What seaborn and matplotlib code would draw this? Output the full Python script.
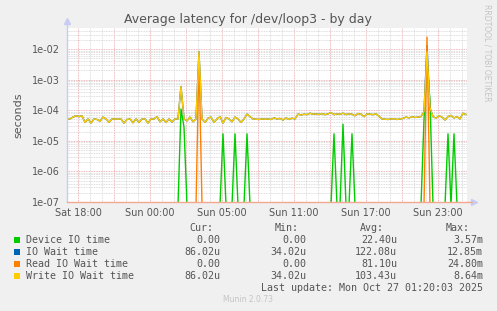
import numpy as np
import pandas as pd
import matplotlib
matplotlib.use("Agg")
import matplotlib.pyplot as plt
import seaborn as sns
from matplotlib.ticker import FixedLocator, FuncFormatter, NullFormatter, LogLocator
from matplotlib.patches import Rectangle

# ---------------- data ----------------
# time in hours relative to "Sat 18:00" (real elapsed time; DST change at night)
t_start_h = -11 / 12
step_h = 0.25

# Write IO wait time, microseconds, one value per 15 minutes
write_us = [52, 52, 60, 66, 62, 66, 40, 52, 38, 52,
            50, 44, 60, 52, 40, 52, 52, 51, 52, 38,
            50, 52, 39, 52, 40, 52, 52, 38, 52, 52,
            62, 42, 52, 40, 52, 41, 52, 52, 600, 52,
            45, 60, 42, 52, 8100, 52, 40, 55, 60, 40,
            52, 62, 38, 58, 52, 42, 60, 52, 40, 52,
            75, 62, 52, 51, 50, 52, 51, 52, 50, 56,
            52, 54, 48, 56, 50, 55, 52, 75, 70, 74,
            72, 80, 74, 76, 73, 78, 72, 76, 84, 72,
            76, 74, 80, 72, 77, 74, 66, 78, 74, 62,
            76, 74, 72, 76, 64, 52, 51, 50, 52, 53,
            50, 52, 54, 60, 56, 62, 58, 60, 62, 90,
            8100, 120, 62, 55, 66, 60, 48, 62, 68, 56,
            62, 52, 80, 72]

# IO wait time = write wait except where reads add to it
io_wait_idx = [44, 120]
io_wait_val = [8100, 12850]

# Read IO wait time: zero except spikes
read_idx = [44, 120]
read_val = [5000, 24800]

# Device IO time: zero except spikes
device_idx = [38, 39, 52, 56, 60, 89, 92, 95, 119, 120, 121, 127, 129]
device_val = [110, 28, 17, 17, 17, 17, 35, 17, 50, 3570, 200, 17, 17]

series_names = ["Device IO time", "IO Wait time", "Read IO Wait time", "Write IO Wait time"]
series_colors = ["#00CC00", "#0066B3", "#FF8000", "#FFCC00"]

cur_vals = ["0.00", "86.02u", "0.00", "86.02u"]
min_vals = ["0.00", "34.02u", "0.00", "34.02u"]
avg_vals = ["22.40u", "122.08u", "81.10u", "103.43u"]
max_vals = ["3.57m", "12.85m", "24.80m", "8.64m"]

x_tick_hours = [0, 6, 12, 18, 24, 30]
x_tick_labels = ["Sat 18:00", "Sun 00:00", "Sun 05:00", "Sun 11:00", "Sun 17:00", "Sun 23:00"]
y_tick_values = [1e-7, 1e-6, 1e-5, 1e-4, 1e-3, 1e-2]

# ---------------- build table ----------------
n = len(write_us)
hours = t_start_h + step_h * np.arange(n)
device = np.zeros(n); device[device_idx] = device_val
io_wait = np.array(write_us, dtype=float); io_wait[io_wait_idx] = io_wait_val
read = np.zeros(n); read[read_idx] = read_val
write = np.array(write_us, dtype=float)

frames = []
for name, vals in zip(series_names, [device, io_wait, read, write]):
    frames.append(pd.DataFrame({"hours": hours, "us": vals, "series": name}))
df = pd.concat(frames, ignore_index=True)
df["seconds"] = df["us"] * 1e-6
# like rrdtool: values at/below the log floor are clamped just below the bottom
df["plot_val"] = df["seconds"].clip(lower=8e-8)

# ---------------- figure ----------------
sns.set_theme(style="white")
plt.rcParams["font.family"] = ["DejaVu Sans"]

W, H = 497, 311
fig = plt.figure(figsize=(W / 100, H / 100), dpi=100, facecolor="#f0f0f0")

def P(x, y):
    return (x / W, 1 - y / H)

ax = fig.add_axes([67 / W, 1 - 202 / H, 400 / W, 174 / H])
ax.set_facecolor("white")

sns.lineplot(data=df, x="hours", y="plot_val", hue="series", hue_order=series_names,
             palette=series_colors, estimator=None, sort=False, legend=False,
             linewidth=1.0, ax=ax)
ax.set_yscale("log", nonpositive="clip")
ax.set_ylim(1e-7, 4.9e-2)
ax.set_xlim(-11 / 12, 32.4167)
ax.set_xlabel("")
ax.set_ylabel("seconds", fontsize=8, color="#555555", labelpad=6)

# ticks / grid
ax.xaxis.set_major_locator(FixedLocator(np.arange(0, 33, 3)))
lab = dict(zip(x_tick_hours, x_tick_labels))
ax.xaxis.set_major_formatter(FuncFormatter(lambda v, p: lab.get(int(round(v)), "") if abs(v - round(v)) < 1e-6 else ""))
ax.xaxis.set_minor_locator(FixedLocator(np.arange(0, 33, 1)))
ax.yaxis.set_major_locator(FixedLocator(y_tick_values))
ax.yaxis.set_major_formatter(FuncFormatter(lambda v, p: f"{v:.0e}"))
ax.yaxis.set_minor_locator(LogLocator(base=10, subs=np.arange(2, 10)))
ax.yaxis.set_minor_formatter(NullFormatter())

ax.tick_params(axis="both", which="both", length=0, labelsize=7, colors="#555555")
ax.tick_params(axis="x", pad=4)
ax.tick_params(axis="y", pad=5)
ax.set_axisbelow(True)
ax.grid(which="minor", color="#d2d2d2", linestyle=(0, (1, 1)), linewidth=0.6)
ax.grid(which="major", color="#e8a0a0", linestyle=(0, (1, 1)), linewidth=0.6)

for s in ["top", "right", "left", "bottom"]:
    ax.spines[s].set_visible(False)
ax.plot([0, 0], [0, 1.035], transform=ax.transAxes, color="#c8ccf4", lw=1, clip_on=False, zorder=5)
ax.plot([0, 1.012], [0, 0], transform=ax.transAxes, color="#f2a890", lw=1, clip_on=False, zorder=5)
ax.plot([0], [1.04], marker="^", markersize=4, color="#c8ccf4", transform=ax.transAxes, clip_on=False)
ax.plot([1.017], [0], marker=">", markersize=4, color="#c8ccf4", transform=ax.transAxes, clip_on=False)

# title and side texts
fig.text(*P(248, 19), "Average latency for /dev/loop3 - by day", ha="center", va="center",
         fontsize=9, color="#555555")
fig.text(*P(487, 53), "RRDTOOL / TOBI OETIKER", ha="center", va="center", rotation=270,
         fontsize=5.5, color="#c4c4c4")

# legend block
mono = "DejaVu Sans Mono"
fs = 7.2
for x, t in [(213, "Cur:"), (299, "Min:"), (384, "Avg:"), (470, "Max:")]:
    fig.text(*P(x, 228), t, ha="right", va="center", fontsize=fs, family=mono, color="#555555")
for i, name in enumerate(series_names):
    y = 240 + 12 * i
    fig.patches.append(Rectangle(P(14, y + 3), 6 / W, 6 / H, transform=fig.transFigure,
                                 facecolor=series_colors[i], edgecolor="none"))
    fig.text(*P(26, y), name, ha="left", va="center", fontsize=fs, family=mono, color="#555555")
    for x, vals in [(220, cur_vals), (306, min_vals), (397, avg_vals), (483, max_vals)]:
        fig.text(*P(x, y), vals[i], ha="right", va="center", fontsize=fs, family=mono, color="#555555")
fig.text(*P(483, 288), "Last update: Mon Oct 27 01:20:03 2025", ha="right", va="center",
         fontsize=fs, family=mono, color="#555555")
fig.text(*P(248, 300), "Munin 2.0.73", ha="center", va="center", fontsize=5.5, color="#c4c4c4")

fig.savefig("out.png", dpi=100, facecolor=fig.get_facecolor())
